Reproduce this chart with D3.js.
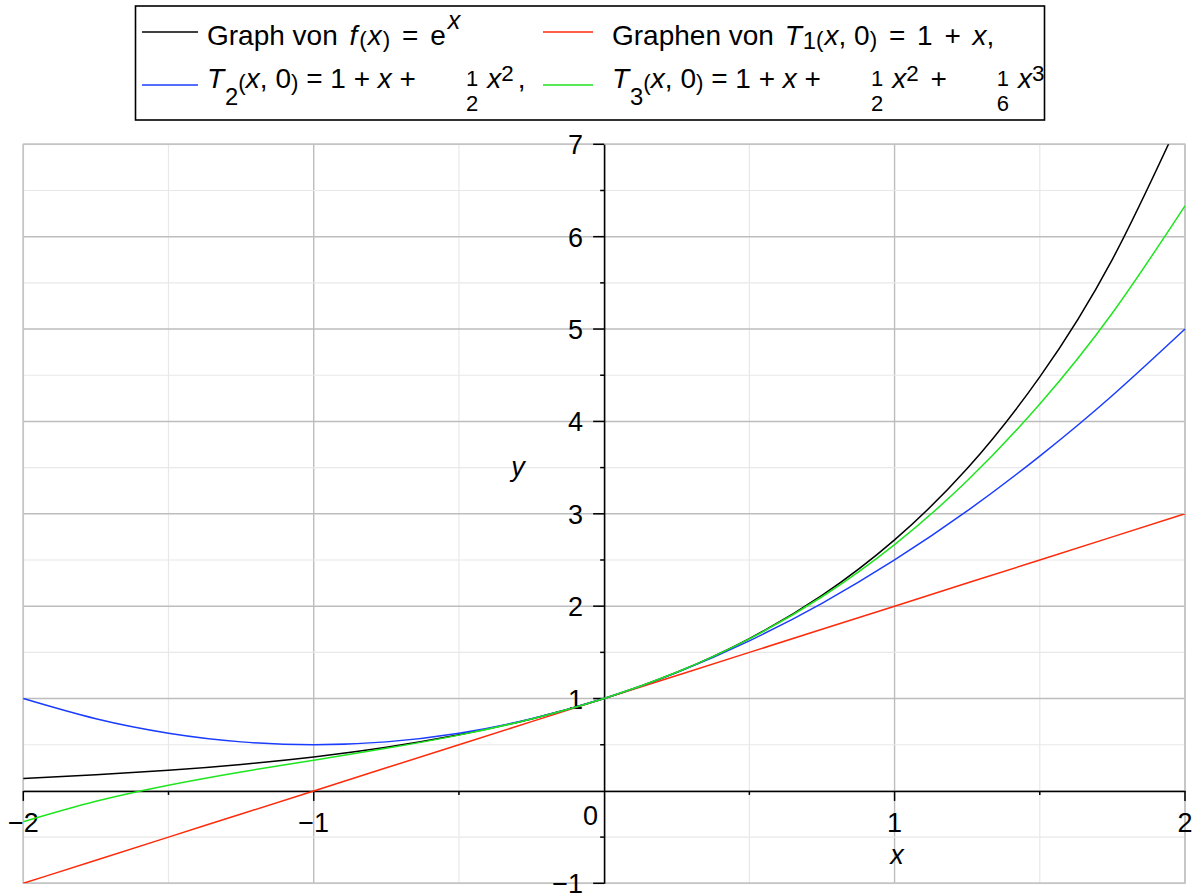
<!DOCTYPE html>
<html><head><meta charset="utf-8">
<script src="https://cdn.jsdelivr.net/npm/d3@7"></script>
<style>
html,body{margin:0;padding:0;background:#fff;}
svg{display:block;}
text{font-family:"Liberation Sans",Arial,Helvetica,sans-serif;white-space:pre;}
</style></head>
<body>
<svg id="chart" width="1193" height="893"></svg>
<script>
// ---- data ----
const xValues = [-2,-1.75,-1.5,-1.25,-1,-0.75,-0.5,-0.25,0,0.25,0.5,0.75,1,1.25,1.5,1.75,2];
const expValues = [0.135,0.174,0.223,0.287,0.368,0.472,0.607,0.779,1,1.284,1.649,2.117,2.718,3.490,4.482,5.755,7.389];
const t1Values = [-1,-0.75,-0.5,-0.25,0,0.25,0.5,0.75,1,1.25,1.5,1.75,2,2.25,2.5,2.75,3];
const t2Values = [1,0.781,0.625,0.531,0.5,0.531,0.625,0.781,1,1.281,1.625,2.031,2.5,3.031,3.625,4.281,5];
const t3Values = [-0.333,-0.112,0.0625,0.206,0.333,0.461,0.604,0.779,1,1.284,1.646,2.102,2.667,3.357,4.188,5.174,6.333];
const seriesNames = ["exp","t1","t2","t3"];
const seriesColors = ["#000000","#ff2a0a","#1a3cff","#1ee51e"];
const xTickValues = [-2,-1,1,2];
const xTickLabels = ["\u22122","\u22121","1","2"];
const yTickValues = [-1,1,2,3,4,5,6,7];
const yTickLabels = ["\u22121","1","2","3","4","5","6","7"];
const xMinorTicks = [-1.5,-0.5,0.5,1.5];
const yMinorTicks = [-0.5,0.5,1.5,2.5,3.5,4.5,5.5,6.5];

const svg = d3.select("#chart");
const L = 23.3, R = 1185, T = 144.3, B = 883.3;
const x = d3.scaleLinear().domain([-2,2]).range([L,R]);
const y = d3.scaleLinear().domain([-1,7]).range([B,T]);
const FS = 27;   // tick labels
const LFS = 28;  // legend

// grid
const grid = svg.append("g");
const halfX = d3.range(-2,2.01,0.5), halfY = d3.range(-1,7.01,0.5);
halfX.forEach(v=>{
  const major = Number.isInteger(v);
  grid.append("line").attr("x1",x(v)).attr("x2",x(v)).attr("y1",T).attr("y2",B)
    .attr("stroke",major?"#bdbdbd":"#e8e8e8").attr("stroke-width",major?1.4:1.2);
});
halfY.forEach(v=>{
  const major = Number.isInteger(v);
  grid.append("line").attr("x1",L).attr("x2",R).attr("y1",y(v)).attr("y2",y(v))
    .attr("stroke",major?"#bdbdbd":"#e8e8e8").attr("stroke-width",major?1.4:1.2);
});
svg.append("rect").attr("x",L).attr("y",T).attr("width",R-L).attr("height",B-T)
  .attr("fill","none").attr("stroke","#c4c4c4").attr("stroke-width",1.5);

// clip
svg.append("clipPath").attr("id","clip").append("rect")
  .attr("x",L-1).attr("y",T).attr("width",R-L+2).attr("height",B-T);

// axes
const xAxisG = svg.append("g").attr("transform",`translate(0,${y(0)})`)
  .call(d3.axisBottom(x).tickValues([]).tickSize(0).tickSizeOuter(0));
xAxisG.select(".domain").attr("stroke","#000").attr("stroke-width",1.5);
const yAxisG = svg.append("g").attr("transform",`translate(${x(0)},0)`)
  .call(d3.axisLeft(y).tickValues([]).tickSize(0).tickSizeOuter(0));
yAxisG.select(".domain").attr("stroke","#000").attr("stroke-width",1.5);

const ticks = svg.append("g").attr("stroke","#000").attr("stroke-width",1.5);
xTickValues.forEach(v=>ticks.append("line").attr("x1",x(v)).attr("x2",x(v)).attr("y1",y(0)).attr("y2",y(0)+10));
xMinorTicks.forEach(v=>ticks.append("line").attr("x1",x(v)).attr("x2",x(v)).attr("y1",y(0)).attr("y2",y(0)+4));
yTickValues.forEach(v=>ticks.append("line").attr("x1",x(0)).attr("x2",x(0)-11).attr("y1",y(v)).attr("y2",y(v)));
yMinorTicks.forEach(v=>ticks.append("line").attr("x1",x(0)).attr("x2",x(0)-4).attr("y1",y(v)).attr("y2",y(v)));

const labels = svg.append("g").attr("font-size",FS).attr("fill","#000");
xTickValues.forEach((v,i)=>labels.append("text").attr("x",x(v)).attr("y",y(0)+41)
  .attr("text-anchor","middle").text(xTickLabels[i]));
labels.append("text").attr("x",x(0)-6).attr("y",y(0)+34).attr("text-anchor","end").text("0");
yTickValues.forEach((v,i)=>labels.append("text").attr("x",x(0)-21).attr("y",y(v)+10)
  .attr("text-anchor","end").text(yTickLabels[i]));
labels.append("text").attr("x",518).attr("y",476).attr("text-anchor","middle")
  .attr("font-style","italic").text("y");
labels.append("text").attr("x",897).attr("y",864).attr("text-anchor","middle")
  .attr("font-style","italic").text("x");

// curves
const seriesData = [expValues,t1Values,t2Values,t3Values];
const line = d3.line().x((d,i)=>x(xValues[i])).y(d=>y(d)).curve(d3.curveNatural);
const curves = svg.append("g").attr("clip-path","url(#clip)");
seriesData.forEach((vals,k)=>{
  curves.append("path").datum(vals).attr("d",line).attr("fill","none")
    .attr("stroke",seriesColors[k]).attr("stroke-width",1.5).attr("class",seriesNames[k]);
});

// legend
const leg = svg.append("g");
leg.append("rect").attr("x",135.5).attr("y",6).attr("width",909).attr("height",114)
  .attr("fill","#fff").attr("stroke","#000").attr("stroke-width",1.6);

function mathText(g, x0, base, pieces){
  let cx = x0;
  pieces.forEach(p=>{
    cx += (p.pre||0);
    if (p.frac){
      const fs = 22;
      const n = g.append("text").style("font-size",fs+"px").attr("y",base-2.5).text(p.frac[0]);
      const d = g.append("text").style("font-size",fs+"px").attr("y",base+22.5).text(p.frac[1]);
      const w = Math.max(n.node().getComputedTextLength(), d.node().getComputedTextLength());
      n.attr("x",cx+(w-n.node().getComputedTextLength())/2);
      d.attr("x",cx+(w-d.node().getComputedTextLength())/2);
      cx += w + (p.pad||0);
      return;
    }
    const fs = LFS*(p.s||1);
    const t = g.append("text").style("font-size",fs+"px").attr("x",cx).attr("y",base+(p.dy||0))
      .attr("font-style",p.i?"italic":null).text(p.t);
    cx += t.node().getComputedTextLength() + (p.pad||0);
  });
}
const P = (t,o)=>Object.assign({t},o||{});
const F = (a,b)=>({frac:[a,b],pre:50,pad:9});
const legendRows = [
  {color:seriesColors[0], lx:142, len:56, ly:32, tx:207, base:45, pieces:[
    P("Graph von ",{pad:4}),P("f",{i:true,pad:2}),P("(",{s:0.8,dy:2,pad:1}),P("x",{i:true,pad:1}),P(")",{s:0.8,dy:2}),
    P(" = ",{pre:4,pad:4}),P("e",{pad:2}),P("x",{i:true,s:0.9,dy:-16})]},
  {color:seriesColors[1], lx:543, len:50, ly:32, tx:612, base:45, pieces:[
    P("Graphen von ",{pad:3}),P("T",{i:true,pad:1}),P("1",{s:0.85,dy:4}),P("(",{s:0.8,dy:2,pad:1}),P("x",{i:true}),
    P(", 0"),P(")",{s:0.8,dy:2}),P(" = ",{pre:4,pad:4}),P("1"),P(" + ",{pre:4,pad:4}),P("x",{i:true}),P(",")]},
  {color:seriesColors[2], lx:142, len:56, ly:85, tx:207, base:88, pieces:[
    P("T",{i:true,pad:1}),P("2",{s:0.85,dy:17}),P("(",{s:0.8,dy:2}),P("x",{i:true}),P(", 0"),P(")",{s:0.8,dy:2}),
    P(" = 1 + "),P("x",{i:true}),P(" +"),F("1","2"),P("x",{i:true}),P("2",{s:0.8,dy:-7,pad:4}),P(",")]},
  {color:seriesColors[3], lx:543, len:50, ly:85, tx:612, base:88, pieces:[
    P("T",{i:true,pad:1}),P("3",{s:0.85,dy:17}),P("(",{s:0.8,dy:2}),P("x",{i:true}),P(", 0"),P(")",{s:0.8,dy:2}),
    P(" = 1 + "),P("x",{i:true}),P(" +"),F("1","2"),P("x",{i:true}),P("2",{s:0.8,dy:-7,pad:4}),
    P(" +"),F("1","6"),P("x",{i:true}),P("3",{s:0.8,dy:-7})]}
];
legendRows.forEach(r=>{
  leg.append("line").attr("x1",r.lx).attr("x2",r.lx+r.len).attr("y1",r.ly).attr("y2",r.ly)
    .attr("stroke",r.color).attr("stroke-width",1.5);
  mathText(leg.append("g").attr("fill","#000"), r.tx, r.base, r.pieces);
});
</script>
</body></html>
